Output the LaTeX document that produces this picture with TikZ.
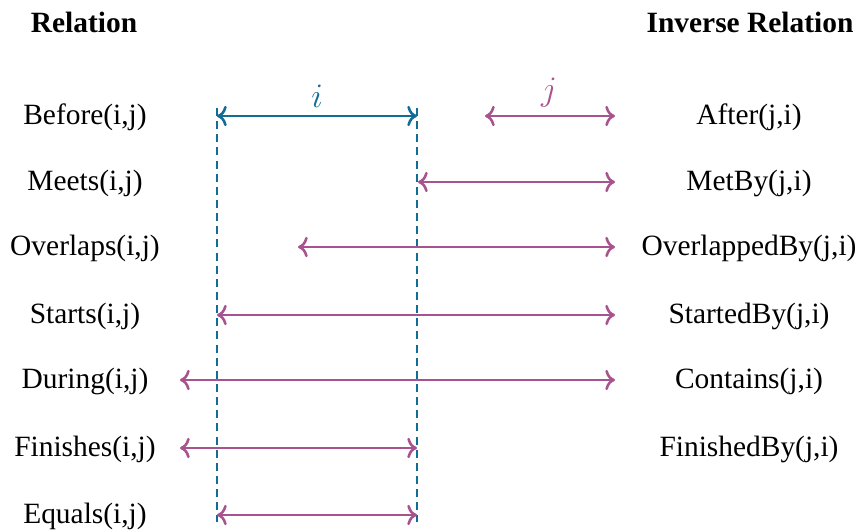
\documentclass[tikz,border=0pt]{standalone}
\usepackage{fontspec}
\setmainfont{Liberation Serif}
\usetikzlibrary{arrows.meta}
\definecolor{blueI}{RGB}{18,108,150}
\definecolor{purpleJ}{RGB}{168,82,142}
\begin{document}
\begin{tikzpicture}[x=0.35pt,y=-0.35pt,
  lbl/.style={inner sep=0pt,font=\fontsize{10.3}{12}\selectfont},
  hdr/.style={inner sep=0pt,font=\fontsize{10.3}{12}\selectfont\bfseries},
  iarrow/.style={{To[scale=0.95]}-{To[scale=0.95]},line width=0.9pt,blueI},
  jarrow/.style={{To[scale=0.95]}-{To[scale=0.95]},line width=0.9pt,purpleJ},
  guide/.style={draw=blueI,line width=0.4pt,dash pattern=on 2.8pt off 1.8pt}]
\useasboundingbox (0,0) rectangle (858,529);
% headers
\node[hdr] (hl) at (84,22) {Relation};
\node[hdr] (hr) at (750,22) {Inverse Relation};
% left labels
\node[lbl] (before) at (85,117) {Before(i,j)};
\node[lbl] (meets) at (85,183) {Meets(i,j)};
\node[lbl] (overlaps) at (85,248) {Overlaps(i,j)};
\node[lbl] (starts) at (85,316) {Starts(i,j)};
\node[lbl] (during) at (85,381) {During(i,j)};
\node[lbl] (finishes) at (85,449) {Finishes(i,j)};
\node[lbl] (equals) at (85,516) {Equals(i,j)};
% right labels
\node[lbl] (after) at (749,117) {After(j,i)};
\node[lbl] (metby) at (749,183) {MetBy(j,i)};
\node[lbl] (overlappedby) at (749,248) {OverlappedBy(j,i)};
\node[lbl] (startedby) at (749,316) {StartedBy(j,i)};
\node[lbl] (contains) at (749,381) {Contains(j,i)};
\node[lbl] (finishedby) at (749,449) {FinishedBy(j,i)};
% guide lines
\coordinate (gla) at (217,108);
\coordinate (glb) at (217,522);
\coordinate (gra) at (417,108);
\coordinate (grb) at (417,522);
\draw[guide] (gla) -- (glb);
\draw[guide] (gra) -- (grb);
% i interval
\coordinate (ia) at (217,116);
\coordinate (ib) at (417,116);
\draw[iarrow] (ia) -- (ib);
\node[inner sep=0pt,font=\large,blueI] (ilbl) at (317,96) {$i$};
% j intervals
\coordinate (ja1) at (485,116);  \coordinate (jb1) at (615,116);
\draw[jarrow] (ja1) -- (jb1);
\node[inner sep=0pt,font=\large,purpleJ] (jlbl) at (549,93) {$j$};
\coordinate (ja2) at (418,182);  \coordinate (jb2) at (615,182);
\draw[jarrow] (ja2) -- (jb2);
\coordinate (ja3) at (298,247);  \coordinate (jb3) at (615,247);
\draw[jarrow] (ja3) -- (jb3);
\coordinate (ja4) at (217,315);  \coordinate (jb4) at (615,315);
\draw[jarrow] (ja4) -- (jb4);
\coordinate (ja5) at (180,380);  \coordinate (jb5) at (615,380);
\draw[jarrow] (ja5) -- (jb5);
\coordinate (ja6) at (180,448);  \coordinate (jb6) at (417,448);
\draw[jarrow] (ja6) -- (jb6);
\coordinate (ja7) at (217,515);  \coordinate (jb7) at (417,515);
\draw[jarrow] (ja7) -- (jb7);
\end{tikzpicture}
\end{document}
